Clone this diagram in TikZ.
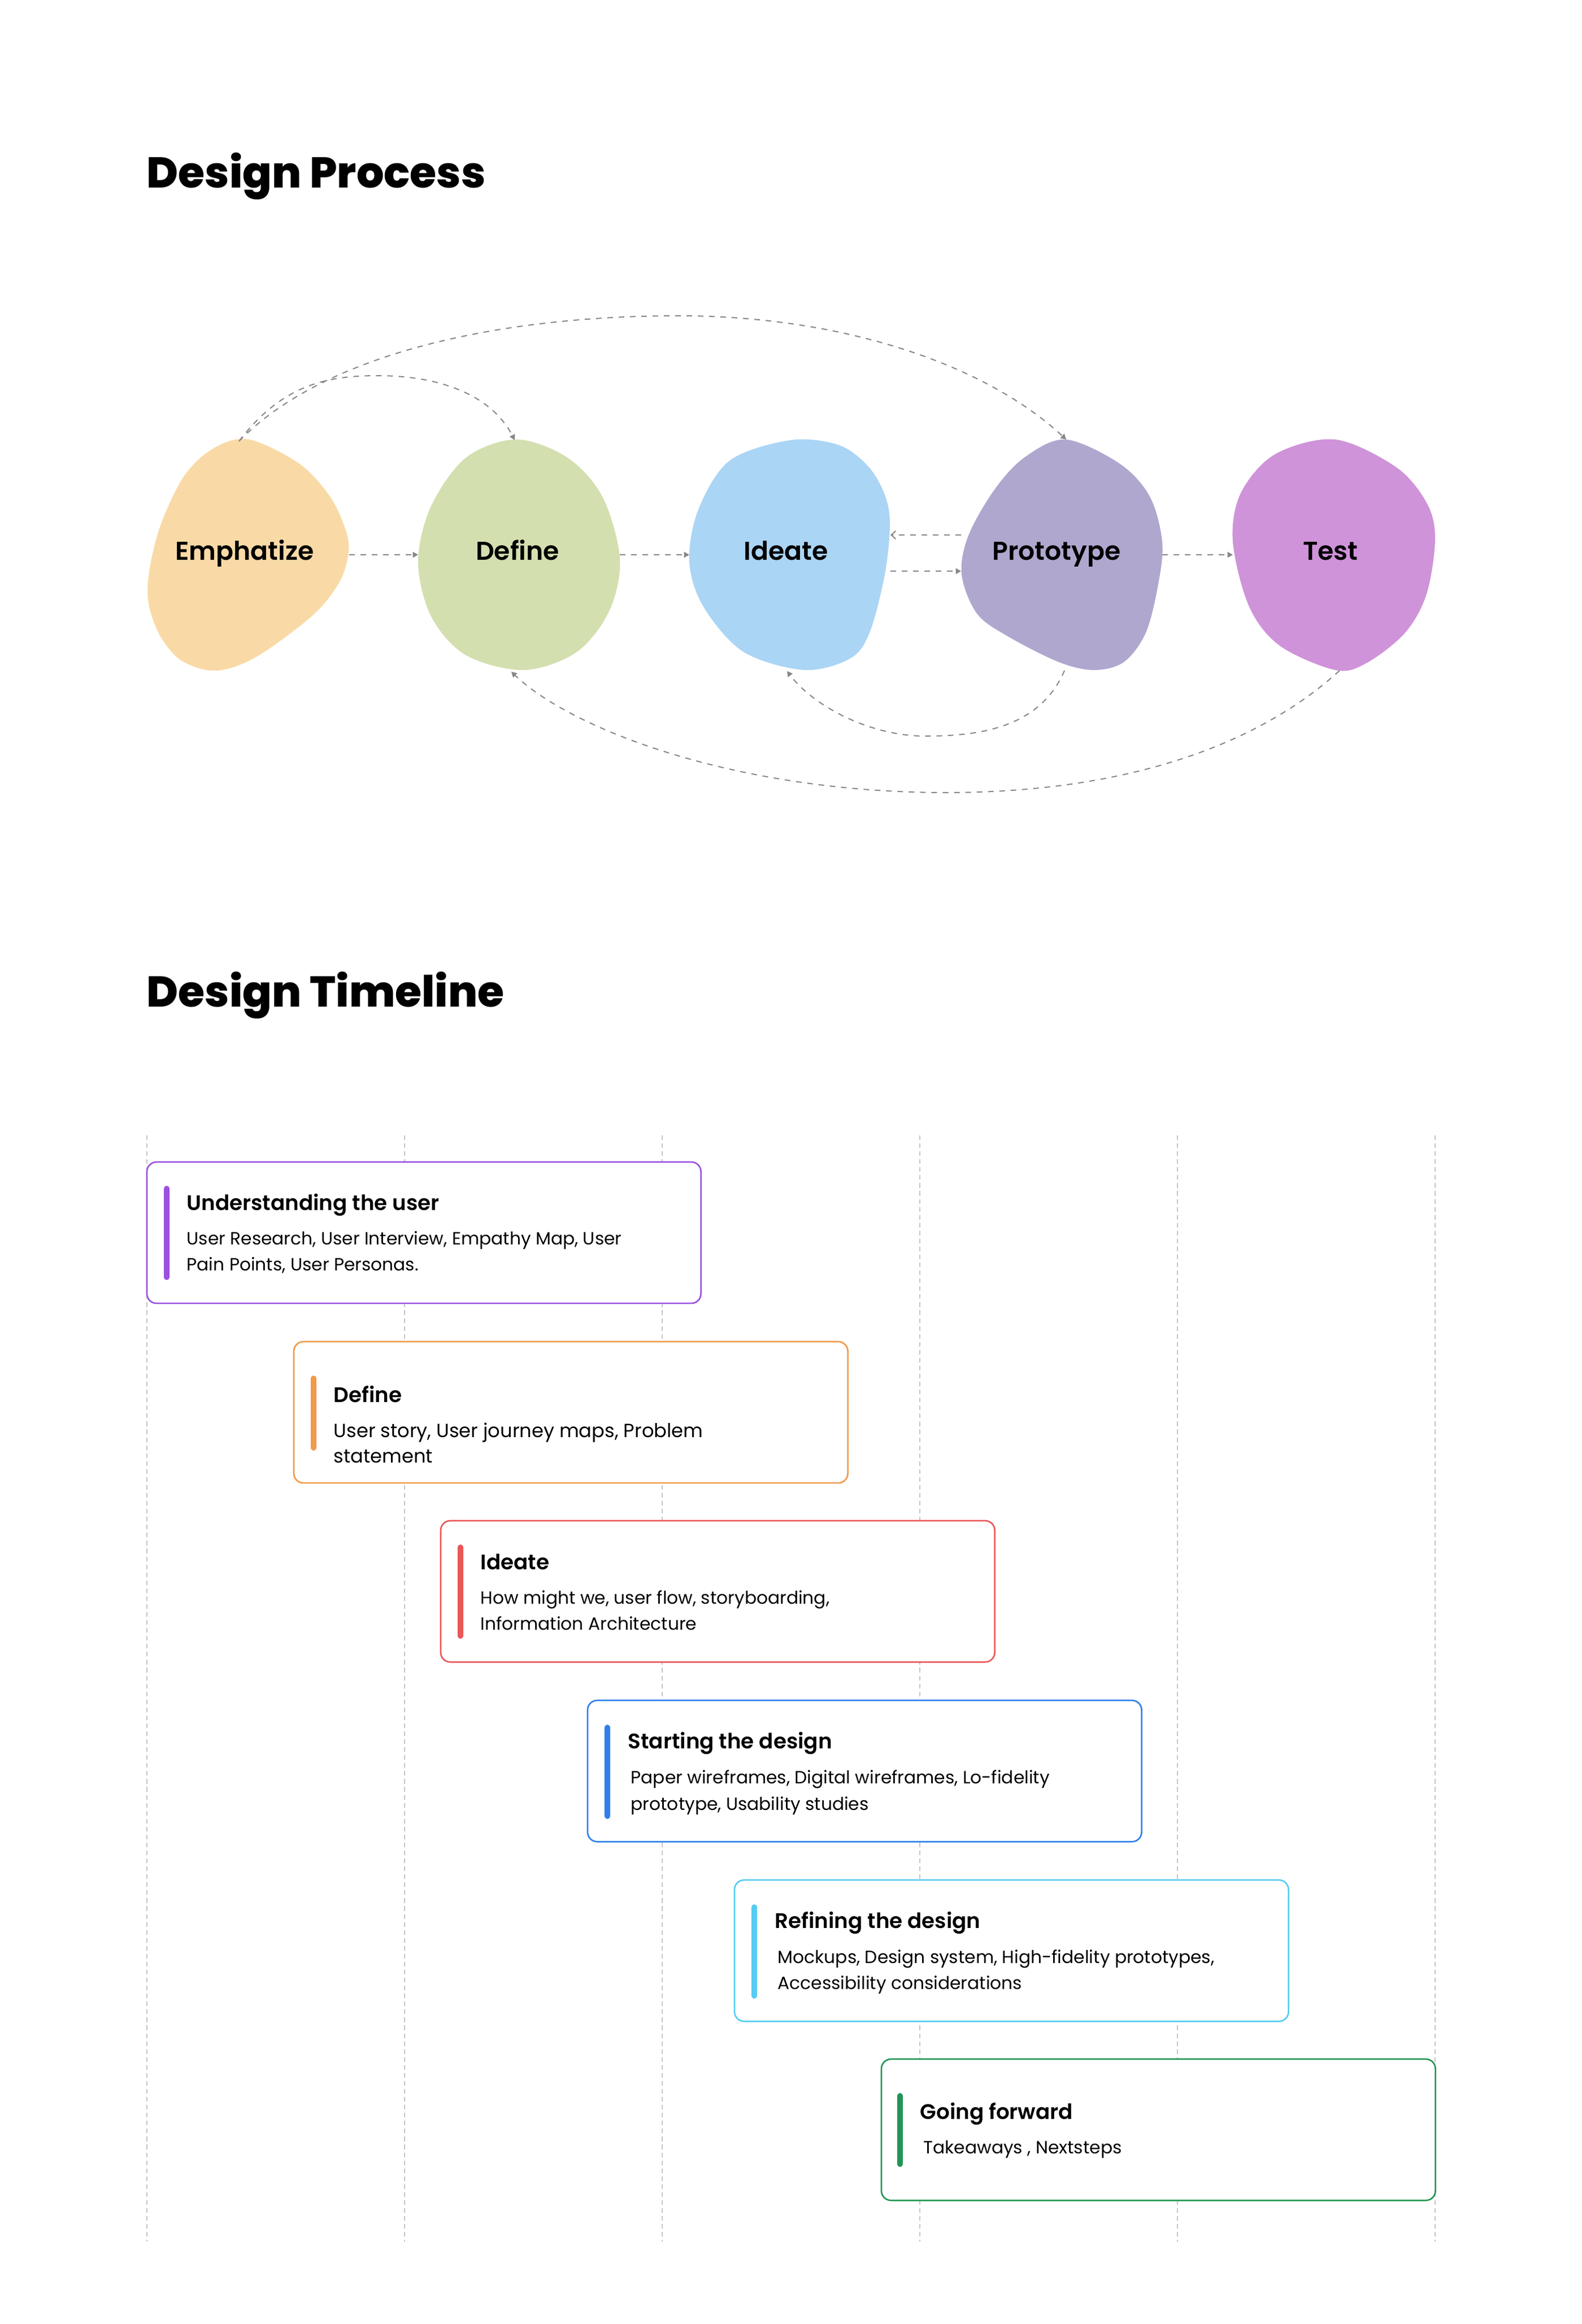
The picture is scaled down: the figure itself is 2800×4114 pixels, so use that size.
\documentclass[tikz,border=0pt]{standalone}
\usepackage{fontspec}
\setmainfont{Poppins}
\newfontfamily\popsemi{Poppins SemiBold}
\newfontfamily\popxb{Poppins ExtraBold}
\usetikzlibrary{arrows.meta,calc}

\definecolor{cEmp}{HTML}{F9DAA6}
\definecolor{cDef}{HTML}{D3DFAF}
\definecolor{cIde}{HTML}{ABD5F5}
\definecolor{cPro}{HTML}{B0A7CF}
\definecolor{cTes}{HTML}{CF93D9}
\definecolor{cLink}{HTML}{878787}
\definecolor{cGrid}{HTML}{C4C4C4}
\definecolor{cPurple}{HTML}{9B51E0}
\definecolor{cOrange}{HTML}{F2994A}
\definecolor{cRed}{HTML}{EB5757}
\definecolor{cBlue}{HTML}{2F80ED}
\definecolor{cSky}{HTML}{56CCF2}
\definecolor{cGreen}{HTML}{219653}

\tikzset{
  link/.style={draw=cLink, line width=0.57pt, dash pattern=on 2.85pt off 2.85pt},
  tipfill/.style={-{Triangle[length=2.7pt,width=2.9pt]}},
  tipopen/.style={-{Straight Barb[length=2.2pt,width=4pt,line width=0.57pt]}},
  gridline/.style={draw=cGrid, line width=0.45pt, dash pattern=on 2.3pt off 1.7pt},
  blobtext/.style={font=\popsemi\fontsize{13}{15}\selectfont, anchor=base, inner sep=0pt},
  bigtitle/.style={font=\popxb\fontsize{21.7}{26}\selectfont, anchor=base west, inner sep=0pt},
  tbox/.style={draw=#1, fill=white, rounded corners=0.17cm, line width=0.75pt,
    minimum width=9.8cm, minimum height=2.5cm, inner sep=0pt, outer sep=0pt, anchor=north west},
  accent/.style={draw=#1, line width=2.8pt, line cap=round},
  boxtitle/.style={font=\popsemi\fontsize{10.6}{13}\selectfont, anchor=base west, inner sep=0pt},
  boxbody/.style={font=\fontsize{8.9}{11}\selectfont, anchor=base west, inner sep=0pt},
  boxbodybig/.style={font=\fontsize{9.6}{12}\selectfont, anchor=base west, inner sep=0pt},
}

\begin{document}
\begin{tikzpicture}[x=0.01cm,y=-0.01cm]
\useasboundingbox[fill=white] (0,0) rectangle (2800,4114);

% ---------- titles ----------
\node[bigtitle] (t1) at (259,332) {Design Process};
\node[bigtitle] (t2) at (259,1782) {Design Timeline};

% ---------- blobs ----------
\fill[cEmp] plot[smooth cycle, tension=0.55] coordinates {
 (441,778) (530,821) (584,879) (611,936) (617,976) (602,1028) (557,1086)
 (468,1154) (410,1182) (365,1186) (315,1165) (278,1115) (261,1045)
 (280,942) (325,844) (379,793)};
\fill[cDef] plot[smooth cycle, tension=0.55] coordinates {
 (914,778) (1004,810) (1066,879) (1097,988) (1079,1080) (1021,1154)
 (928,1186) (825,1160) (763,1091) (740,994) (763,896) (825,810)};
\fill[cIde] plot[smooth cycle, tension=0.55] coordinates {
 (1400,779) (1485,788) (1537,826) (1566,876) (1575,928) (1566,1017)
 (1539,1120) (1504,1166) (1423,1186) (1316,1154) (1245,1074) (1220,994)
 (1236,902) (1292,815)};
\fill[cPro] plot[smooth cycle, tension=0.55] coordinates {
 (1886,778) (1982,821) (2035,879) (2057,959) (2050,1034) (2028,1120)
 (1989,1172) (1936,1186) (1874,1172) (1783,1126) (1729,1086) (1702,1017)
 (1714,948) (1760,867) (1813,810)};
\fill[cTes] plot[smooth cycle, tension=0.55] coordinates {
 (2363,778) (2471,827) (2525,890) (2540,953) (2525,1051) (2487,1120)
 (2418,1174) (2363,1186) (2265,1143) (2211,1074) (2182,959) (2196,873)
 (2257,804)};

\node[blobtext] (emp) at (433,991) {Emphatize};
\node[blobtext] (def) at (916,991) {Define};
\node[blobtext] (ide) at (1391,991) {Ideate};
\node[blobtext] (pro) at (1870,991) {Prototype};
\node[blobtext] (tes) at (2355,991) {Test};

% ---------- connection points ----------
\coordinate (empT) at (423,781);
\coordinate (empR) at (618,982);
\coordinate (defT) at (911,779);
\coordinate (defL) at (740,982);
\coordinate (defR) at (1097,982);
\coordinate (defB) at (905,1189);
\coordinate (ideL) at (1220,982);
\coordinate (ideRu) at (1576,947);
\coordinate (ideRl) at (1576,1011);
\coordinate (ideB) at (1393,1188);
\coordinate (proLu) at (1701,947);
\coordinate (proLl) at (1701,1011);
\coordinate (proT) at (1887,778);
\coordinate (proR) at (2057,982);
\coordinate (proB) at (1884,1187);
\coordinate (tesL) at (2182,982);
\coordinate (tesB) at (2371,1187);

% ---------- connectors ----------
\draw[link,tipfill] (empR) -- (defL);
\draw[link,tipfill] (defR) -- (ideL);
\draw[link,tipopen] (proLu) -- (ideRu);
\draw[link,tipfill] (ideRl) -- (proLl);
\draw[link,tipfill] (proR) -- (tesL);
\draw[link,tipfill] (empT) .. controls (500,680) and (580,665) .. (669,665)
  .. controls (780,665) and (870,700) .. (defT);
\draw[link,tipfill] (empT) .. controls (580,620) and (900,559) .. (1200,559)
  .. controls (1500,559) and (1750,650) .. (proT);
\draw[link,tipfill] (proB) .. controls (1840,1290) and (1730,1303) .. (1637,1303)
  .. controls (1540,1303) and (1440,1250) .. (ideB);
\draw[link,tipfill] (tesB) .. controls (2220,1325) and (1980,1403) .. (1675,1403)
  .. controls (1300,1403) and (1010,1290) .. (defB);

% ---------- timeline grid ----------
\foreach \i/\gx in {1/260,2/716,3/1172,4/1628,5/2084,6/2540}{
  \coordinate (g\i t) at (\gx,2010);
  \coordinate (g\i b) at (\gx,3968);
  \draw[gridline] (g\i t) -- (g\i b);
}

% ---------- timeline boxes ----------
% box 1
\node[tbox=cPurple] (b1) at (260,2057) {};
\draw[accent=cPurple] ($(b1.north west)+(35,47)$) -- ($(b1.north west)+(35,204)$);
\node[boxtitle] (b1t) at ($(b1.north west)+(70,85)$) {Understanding the user};
\node[boxbody] (b1a) at ($(b1.north west)+(70,146)$) {User Research, User Interview, Empathy Map, User};
\node[boxbody] (b1b) at ($(b1.north west)+(70,192)$) {Pain Points, User Personas.};

% box 2
\node[tbox=cOrange] (b2) at (520,2375) {};
\draw[accent=cOrange] ($(b2.north west)+(35,65)$) -- ($(b2.north west)+(35,188)$);
\node[boxtitle] (b2t) at ($(b2.north west)+(70,107)$) {Define};
\node[boxbodybig] (b2a) at ($(b2.north west)+(70,169)$) {User story, User journey maps, Problem};
\node[boxbodybig] (b2b) at ($(b2.north west)+(70,214)$) {statement};

% box 3
\node[tbox=cRed] (b3) at (780,2692) {};
\draw[accent=cRed] ($(b3.north west)+(35,47)$) -- ($(b3.north west)+(35,204)$);
\node[boxtitle] (b3t) at ($(b3.north west)+(70,86)$) {Ideate};
\node[boxbody] (b3a) at ($(b3.north west)+(70,147)$) {How might we, user flow, storyboarding,};
\node[boxbody] (b3b) at ($(b3.north west)+(70,193)$) {Information Architecture};

% box 4
\node[tbox=cBlue] (b4) at (1040,3010) {};
\draw[accent=cBlue] ($(b4.north west)+(35,48)$) -- ($(b4.north west)+(35,205)$);
\node[boxtitle] (b4t) at ($(b4.north west)+(71,85)$) {Starting the design};
\node[boxbody] (b4a) at ($(b4.north west)+(76,147)$) {Paper wireframes, Digital wireframes, Lo-fidelity};
\node[boxbody] (b4b) at ($(b4.north west)+(76,194)$) {prototype, Usability studies};

% box 5
\node[tbox=cSky] (b5) at (1300,3328) {};
\draw[accent=cSky] ($(b5.north west)+(35,48)$) -- ($(b5.north west)+(35,205)$);
\node[boxtitle] (b5t) at ($(b5.north west)+(71,85)$) {Refining the design};
\node[boxbody] (b5a) at ($(b5.north west)+(76,147)$) {Mockups, Design system, High-fidelity prototypes,};
\node[boxbody] (b5b) at ($(b5.north west)+(76,193)$) {Accessibility considerations};

% box 6
\node[tbox=cGreen] (b6) at (1560,3645) {};
\draw[accent=cGreen] ($(b6.north west)+(33,65)$) -- ($(b6.north west)+(33,186)$);
\node[boxtitle] (b6t) at ($(b6.north west)+(68,106)$) {Going forward};
\node[boxbody] (b6a) at ($(b6.north west)+(74,167)$) {Takeaways , Nextsteps};
\end{tikzpicture}
\end{document}
